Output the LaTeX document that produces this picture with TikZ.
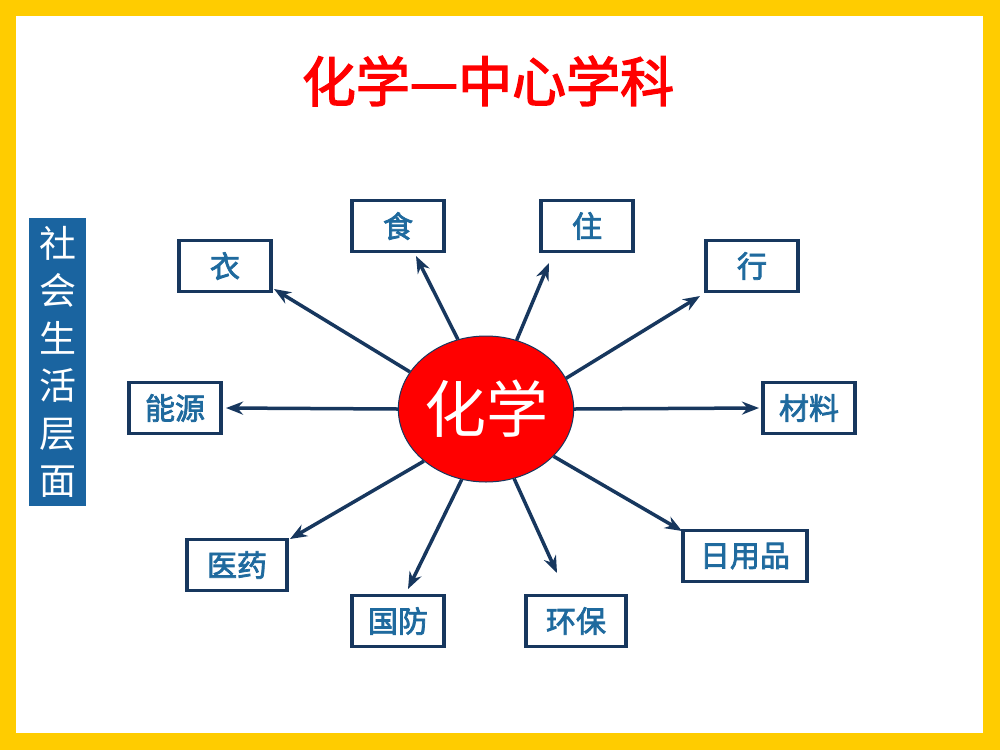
\documentclass[tikz,border=0pt]{standalone}
\usepackage{fontspec}
\newfontfamily\cjk{Noto Sans CJK SC}
\newfontfamily\cjkb{Noto Sans CJK SC}[FakeBold=2.5]
\usetikzlibrary{shapes.geometric,arrows.meta}
\definecolor{frameyellow}{HTML}{FFCC00}
\definecolor{navy}{HTML}{17375E}
\definecolor{labelblue}{HTML}{1F6A9E}
\definecolor{barblue}{HTML}{1A64A0}
\begin{document}
\begin{tikzpicture}[x=1pt,y=-1pt,
  item/.style={draw=navy,line width=3.5pt,fill=white,minimum width=92pt,minimum height=51pt,inner sep=0pt,
    font=\cjkb\fontsize{30}{32}\selectfont,text=labelblue},
  link/.style={navy,line width=3.5pt,-{Stealth[length=17pt,width=13pt]}}]
\useasboundingbox (0,0) rectangle (1000,750);
\fill[frameyellow] (0,0) rectangle (1000,750);
\fill[white] (16,16) rectangle (983,733);
\node[text=red,font=\cjkb\fontsize{54}{56}\selectfont] (title) at (488,81) {化学—中心学科};
\node[fill=barblue,minimum width=57pt,minimum height=288pt,inner sep=0pt,text=white,
  font=\cjk\fontsize{37}{47.5}\selectfont,align=center] (bar) at (57.5,362) {社\\会\\生\\活\\层\\面};
\node[ellipse,draw=navy,line width=1pt,fill=red,minimum width=172pt,minimum height=146pt,inner sep=0pt,
  text=white,font=\cjk\fontsize{62}{64}\selectfont] (chem) at (486,409) {化学};
\node[item] (yi) at (225,266) {衣};
\node[item] (shi) at (398,226) {食};
\node[item] (zhu) at (587,226) {住};
\node[item] (xing) at (752,266) {行};
\node[item] (neng) at (175,408) {能源};
\node[item] (cai) at (809,408) {材料};
\node[item,minimum width=100pt] (yao) at (237,565) {医药};
\node[item] (guo) at (398,621) {国防};
\node[item,minimum width=100pt] (huan) at (576,621) {环保};
\node[item,minimum width=124pt] (ri) at (745,556) {日用品};
\coordinate (tyi) at (274,289);
\coordinate (tshi) at (416,256);
\coordinate (tzhu) at (549,263);
\coordinate (txing) at (700,296);
\coordinate (tneng) at (226,408);
\coordinate (tcai) at (759,408);
\coordinate (tyao) at (290,539);
\coordinate (tguo) at (408,589);
\coordinate (thuan) at (557,573);
\coordinate (tri) at (682,531);
\draw[link] (chem.154) -- (tyi);
\draw[link] (chem.112) -- (tshi);
\draw[link] (chem.66) -- (tzhu);
\draw[link] (chem.21) -- (txing);
\draw[link] (chem.180) -- (tneng);
\draw[link] (chem.0) -- (tcai);
\draw[link] (chem.220) -- (tyao);
\draw[link] (chem.251) -- (tguo);
\draw[link] (chem.292) -- (thuan);
\draw[link] (chem.325) -- (tri);
\end{tikzpicture}
\end{document}
